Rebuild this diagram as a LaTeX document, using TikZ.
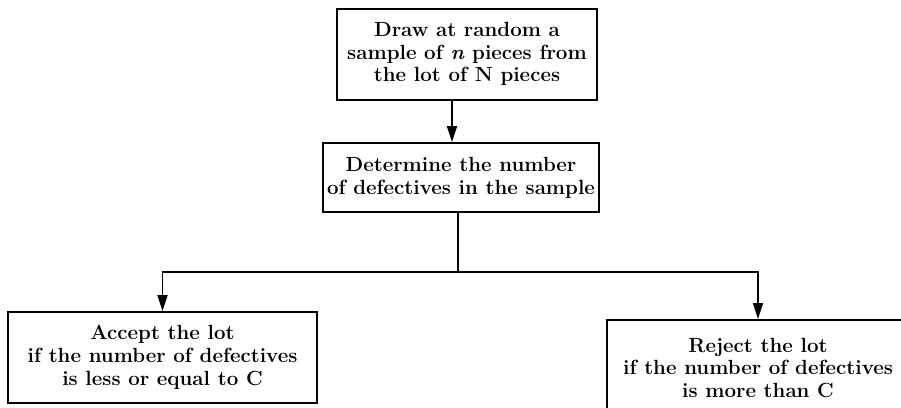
\documentclass[tikz,border=0pt]{standalone}
\usepackage{fontspec}
\usetikzlibrary{arrows.meta}
\begin{document}
\begin{tikzpicture}[x=1pt,y=-1pt,
  box/.style={draw=black,line width=2pt,align=center,inner sep=0pt,
    font=\fontsize{20.5}{22.8}\selectfont\bfseries},
  conn/.style={draw=black,line width=1.8pt},
  arr/.style={conn,-{Stealth[length=16pt,width=10pt,inset=0pt]}}]
\useasboundingbox[fill=white] (0,0) rectangle (901,407);
\begin{scope}
\clip (0,0) rectangle (901,407);
\node[box,minimum width=260pt,minimum height=91pt] (draw) at (467,54)
  {Draw at random a\\sample of \textit{n} pieces from\\the lot of N pieces};
\node[box,minimum width=276pt,minimum height=69pt] (count) at (461,177.5)
  {Determine the number\\of defectives in the sample};
\node[box,minimum width=309pt,minimum height=91pt] (accept) at (162.5,357.5)
  {Accept the lot\\if the number of defectives\\is less or equal to C};
\node[box,minimum width=302pt,minimum height=96pt] (reject) at (758,368)
  {Reject the lot\\if the number of defectives\\is more than C};
\coordinate (split) at (458,272);
\draw[arr] ([xshift=-15pt]draw.south) -- ([xshift=-15pt]draw.south |- count.north);
\draw[conn] (count.south -| split) -- (split);
\draw[arr] (split) -| (accept.north);
\draw[arr] (split) -| (reject.north);
\end{scope}
\end{tikzpicture}
\end{document}
